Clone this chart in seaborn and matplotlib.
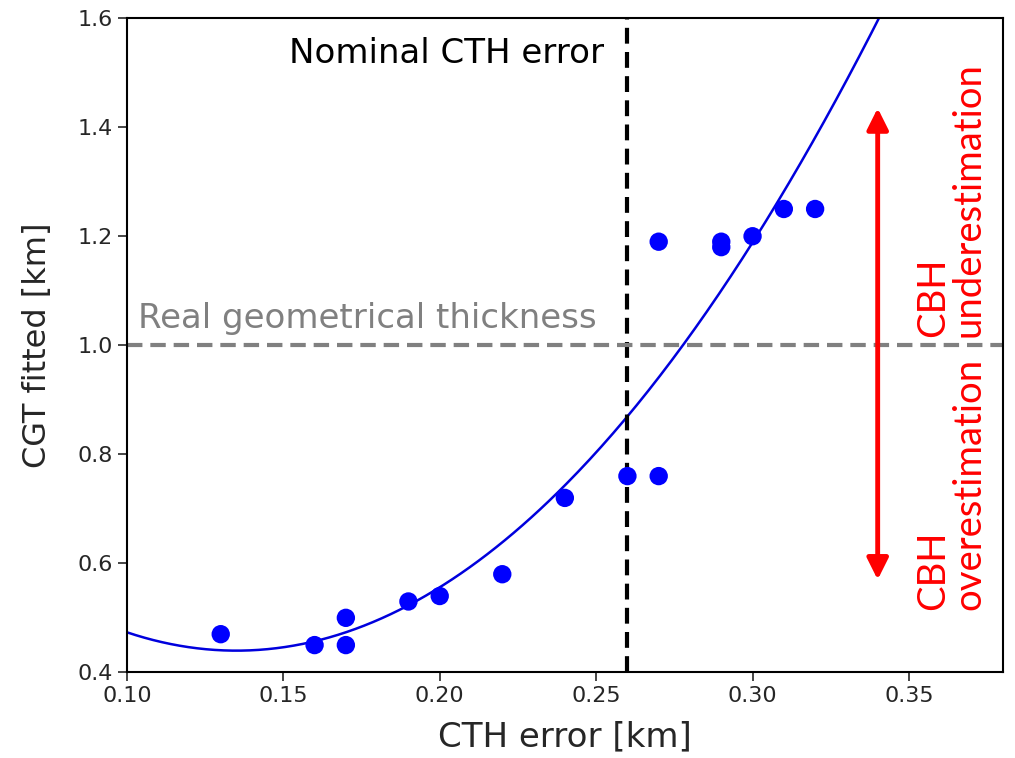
import numpy as np
import pandas as pd
import matplotlib
matplotlib.use("Agg")
import matplotlib.pyplot as plt
import seaborn as sns

# --- data ---
cth_error = [0.13, 0.16, 0.17, 0.17, 0.19, 0.20, 0.22, 0.24, 0.26, 0.27,
             0.27, 0.29, 0.29, 0.30, 0.31, 0.32]
cgt_fitted = [0.47, 0.45, 0.50, 0.45, 0.53, 0.54, 0.58, 0.72, 0.76, 0.76,
              1.19, 1.19, 1.18, 1.20, 1.25, 1.25]

# quadratic fit coefficients (highest power first)
fit_coeffs = [27.5, -7.425, 0.941]

nominal_cth_error = 0.26
real_thickness = 1.0
arrow_x = 0.34
arrow_top, arrow_bottom = 1.435, 0.57

df = pd.DataFrame({"cth": cth_error, "cgt": cgt_fitted})
x_fit = np.linspace(0.10, 0.38, 300)
df_fit = pd.DataFrame({"cth": x_fit, "cgt": np.polyval(fit_coeffs, x_fit)})

sns.set_style("ticks")
plt.rcParams['font.family'] = ['DejaVu Sans']

fig = plt.figure(figsize=(10.15, 7.58), dpi=100)
ax = fig.add_axes([0.125, 0.113, 0.863, 0.863])

sns.lineplot(data=df_fit, x="cth", y="cgt", color="#0000dd", linewidth=1.8, ax=ax)
sns.scatterplot(data=df, x="cth", y="cgt", color="#0000ff", s=175, edgecolor="none", ax=ax, zorder=3)

ax.axvline(nominal_cth_error, color="black", linestyle="--", linewidth=3, dashes=(3.8, 2.0))
ax.axhline(real_thickness, color="gray", linestyle="--", linewidth=3, dashes=(3.7, 1.9))

ax.text(0.1035, 1.05, "Real geometrical thickness", color="gray", fontsize=24.5,
        ha="left", va="center")
ax.text(0.2525, 1.535, "Nominal CTH error", color="black", fontsize=24.5,
        ha="right", va="center")

ax.annotate("", xy=(arrow_x, arrow_top), xytext=(arrow_x, arrow_bottom),
            arrowprops=dict(arrowstyle="<|-|>", color="red", lw=3.5, mutation_scale=32,
                            shrinkA=0, shrinkB=0))

red_font = ["Lato", "DejaVu Sans"]
ax.text(0.3634, 1.015, "CBH\nunderestimation", color="red", fontsize=27.5, rotation=90,
        ha="center", va="bottom", multialignment="left", family=red_font, linespacing=1.0)
ax.text(0.3634, 0.977, "CBH\noverestimation", color="red", fontsize=27.5, rotation=90,
        ha="center", va="top", multialignment="left", family=red_font, linespacing=1.0)

ax.set_xlim(0.10, 0.38)
ax.set_ylim(0.4, 1.6)
ax.set_xticks([0.10, 0.15, 0.20, 0.25, 0.30, 0.35])
ax.set_yticks([0.4, 0.6, 0.8, 1.0, 1.2, 1.4, 1.6])
ax.tick_params(labelsize=16, length=6.5, width=1.2)
ax.set_xlabel("CTH error [km]", fontsize=24.5, labelpad=10)
ax.set_ylabel("CGT fitted [km]", fontsize=23, labelpad=18)
for sp in ax.spines.values():
    sp.set_linewidth(1.5)
    sp.set_color("black")

fig.savefig("out.png", dpi=100)
